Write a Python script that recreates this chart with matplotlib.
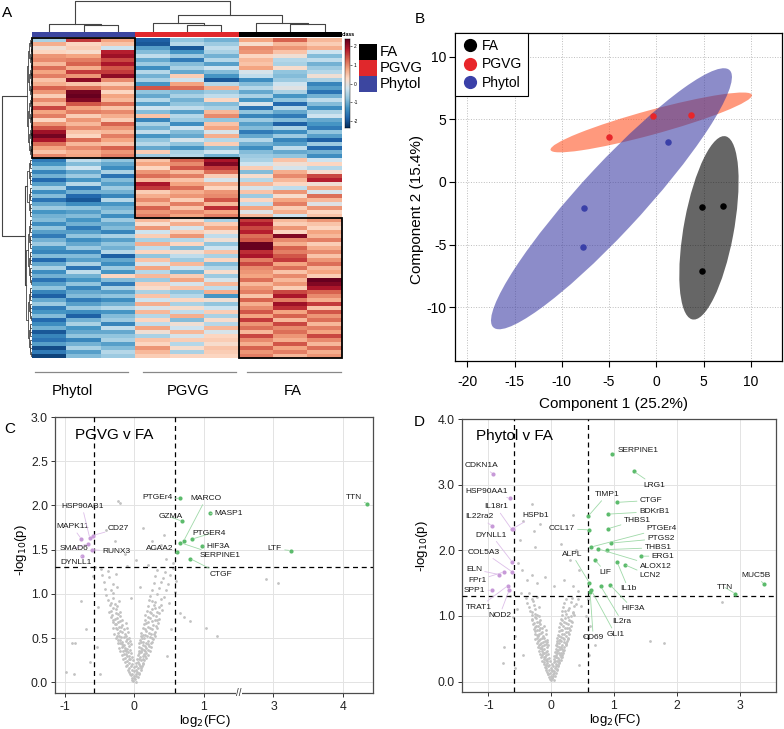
import numpy as np
import matplotlib
matplotlib.use("Agg")
import matplotlib.pyplot as plt
from matplotlib.patches import Rectangle, Ellipse
from matplotlib.colors import LinearSegmentedColormap, ListedColormap
from matplotlib.lines import Line2D

plt.rcParams['font.family'] = ['Liberation Sans', 'DejaVu Sans']
plt.rcParams['axes.unicode_minus'] = False

# ---------------- DATA ----------------
groups = ["Phytol", "PGVG", "FA"]
legend_classes = ["FA", "PGVG", "Phytol"]

# heatmap rows (z-scores), columns: Phytol x3, PGVG x3, FA x3
heat_top = [
    [-0.6, 1.6, 0.8, -1.9, -0.8, -1.0, 0.8, 1.3, 0.6],
    [0.7, 0.3, 0.5, -2.0, -0.5, -0.7, 0.2, 0.6, 0.4],
    [0.1, 0.4, -0.3, -1.2, -2.0, -0.4, 1.0, 0.9, 0.7],
    [0.3, 0.2, 1.8, -0.9, -1.3, -0.6, 0.9, 0.5, -0.3],
    [0.9, 0.8, 2.0, -0.4, -0.7, -1.0, 0.3, 0.1, -0.9],
    [1.0, 1.1, 1.5, -1.1, -1.6, -0.5, 0.6, -0.5, -0.4],
    [0.6, 1.3, 1.9, -0.7, -0.9, -1.2, 0.5, -0.6, -1.0],
    [1.2, 0.7, 1.4, -1.4, -0.6, -0.3, 0.8, 0.2, -0.7],
    [0.8, 1.6, 1.6, -0.5, -1.1, -0.9, -0.2, -0.8, -0.5],
    [1.1, 0.9, 2.1, -1.0, 0.4, -1.3, -0.4, -0.9, 0.1],
    [0.5, 2.1, 1.0, -0.6, -0.3, -2.0, -1.4, -0.7, -0.6],
    [0.7, 0.5, 0.4, -1.3, 0.8, -0.5, -0.9, -0.3, -1.5],
    [1.3, 1.2, 0.9, 1.4, 1.2, 0.7, -0.5, -0.1, -1.2],
    [0.9, 2.3, 0.3, -0.8, -0.9, -0.7, -1.1, -0.6, -1.7],
    [0.4, 2.4, 0.8, -1.1, -0.6, -0.4, -0.6, -1.3, -1.0],
    [1.0, 2.2, 0.6, -0.5, -1.0, 0.3, -1.3, -0.8, -0.4],
    [0.6, 1.4, 1.2, -1.2, -0.8, -0.9, -0.2, -1.8, -0.9],
    [1.5, 0.8, 0.5, -0.3, -0.4, -0.6, -1.7, -0.5, -1.4],
    [0.8, 1.1, 1.0, -0.9, -1.2, 0.6, -0.8, -1.1, -0.6],
    [1.1, 0.4, 0.7, 0.5, -0.5, 1.0, -1.5, -1.6, -0.3],
    [0.3, 0.9, 0.4, -1.5, -0.7, -0.8, -0.7, -0.9, -1.1],
    [0.9, 0.6, 1.3, -0.6, -1.4, 0.5, -1.2, -1.9, -1.3],
    [1.4, 1.0, 0.9, -1.0, -0.3, 0.8, -0.9, -0.6, -1.6],
    [2.0, 0.5, 0.6, -0.4, -0.9, -0.2, -1.6, -1.4, -0.8],
    [2.3, 0.3, 1.1, -1.3, -1.1, 0.7, -1.1, -0.7, -1.2],
    [1.9, 1.2, 0.8, -0.8, -0.2, -0.5, -0.5, -1.5, -1.9],
    [1.2, 0.6, 0.5, -0.5, -0.8, 0.4, -1.0, -1.2, -0.7],
    [0.8, 1.0, 1.3, -1.1, -1.3, -0.9, -1.4, -0.4, -1.8],
    [0.5, 0.7, 0.9, 0.4, -0.6, -0.3, -0.9, -1.1, -1.0],
    [1.0, 0.8, 1.1, -0.7, -0.5, -1.0, -0.7, -0.8, -1.4],
]
heat_mid = [
    [-1.6, -0.4, -0.8, 0.5, 1.3, 1.9, -0.6, 0.5, -0.3],
    [-1.3, -0.9, -1.1, 0.8, 1.0, 2.2, -0.3, 0.1, 0.3],
    [-0.8, -0.3, -1.4, 0.3, 1.4, 1.6, 0.4, -0.2, -0.5],
    [-1.5, -1.1, -0.6, 0.9, 0.6, 1.2, -0.9, 0.7, 0.2],
    [-1.0, -0.7, -1.7, 1.2, 1.1, 0.4, 0.2, 1.0, 1.5],
    [-1.8, -1.3, -0.9, 0.6, 0.5, -0.2, -0.5, 0.6, 1.8],
    [-1.2, -0.5, -1.2, 1.9, 0.8, 0.7, 0.6, 0.3, 0.1],
    [-0.6, -1.6, -0.7, 1.6, 1.2, 0.3, -0.2, -0.4, 0.8],
    [-1.4, -1.0, -1.0, 0.4, 0.7, 0.9, 0.5, 0.9, -0.2],
    [-0.9, -1.8, -1.5, 0.7, 0.9, 1.0, -0.7, 0.2, 1.2],
    [-1.7, -2.0, -0.5, 1.0, 0.4, 1.4, 0.3, 0.8, 0.6],
    [-1.1, -1.4, -1.3, 0.6, 1.1, 0.6, -0.4, 1.1, -0.1],
    [-0.7, -0.8, -1.0, 1.3, 0.5, 1.7, 0.8, 0.4, 0.9],
    [-1.3, -1.2, -0.8, 0.9, 1.0, 0.8, -0.1, 0.7, 0.3],
    [-1.0, -0.9, -1.4, 1.1, 0.8, 1.1, 0.6, -0.3, 0.5],
]
heat_bot = [
    [-0.9, -1.3, -0.7, 0.6, 0.2, -0.6, 1.6, 0.6, 0.9],
    [-1.4, -1.0, -1.1, 0.2, 0.7, 0.4, 1.9, 0.4, 0.5],
    [-0.8, -1.6, -0.9, 0.9, -0.2, 0.8, 1.5, 0.9, 0.3],
    [-1.2, -1.2, -1.5, -0.3, 0.4, 0.2, 1.8, 0.3, 0.8],
    [-1.6, -0.8, -0.6, 0.4, 0.9, -0.4, 1.2, 2.2, 0.6],
    [-1.0, -1.4, -1.2, -0.6, -0.5, 0.1, 1.4, 1.0, 1.1],
    [-0.7, -1.1, -0.8, 0.7, 0.3, -0.8, 2.5, 0.7, 0.4],
    [-1.3, -0.7, -1.0, -0.4, -0.9, -0.3, 2.4, 1.3, 0.7],
    [-1.5, -1.5, -0.5, 0.3, 0.1, 0.5, 1.7, 1.1, 1.0],
    [-0.9, -0.9, -1.9, -0.8, -0.4, -0.6, 1.9, 1.4, 0.5],
    [-1.8, -1.2, -1.1, 0.5, -0.7, 0.3, 1.1, 1.6, 0.9],
    [-1.1, -0.6, -1.4, -0.2, 0.6, -0.9, 1.5, 0.8, 1.2],
    [-0.6, -1.7, -0.7, 0.8, -0.3, -0.5, 1.0, 1.2, 0.6],
    [-1.4, -0.4, -1.3, -0.5, -1.0, 0.2, 0.9, 0.5, 0.8],
    [-1.0, -1.0, 0.3, 0.6, 0.4, -0.7, 0.8, 1.0, 0.4],
    [-1.7, -1.3, -0.9, -0.7, 0.8, -0.2, 1.2, 0.6, 2.4],
    [-1.2, -0.8, -1.6, 0.4, -0.2, 0.6, 0.6, 0.9, 2.2],
    [-0.8, -1.5, -0.6, 0.2, 0.5, -0.4, 0.9, 0.4, 1.9],
    [-1.5, -1.1, -1.2, -0.6, -0.8, 0.7, 1.1, 1.5, 1.3],
    [-1.9, -0.9, -0.8, 0.5, -0.5, -1.3, 0.5, 1.9, 1.0],
    [-1.1, -1.6, -1.4, -0.3, 0.3, 0.1, 1.3, 1.1, 0.7],
    [-0.7, -1.2, -1.0, 0.7, -0.6, -0.8, 0.7, 2.0, 1.6],
    [-1.6, -0.7, -0.5, -0.2, 0.2, -0.3, 1.0, 1.7, 0.5],
    [-1.3, -1.4, -1.3, 0.6, -0.4, 0.4, 1.4, 0.8, 1.4],
    [-0.9, -1.9, -0.9, -0.5, 0.7, -0.6, 0.8, 1.3, 0.9],
    [-1.8, -1.0, -0.7, 0.3, -0.9, 0.2, 1.6, 0.6, 1.2],
    [-1.4, -0.6, -1.5, -0.4, 0.1, -0.5, 0.9, 1.5, 0.6],
    [-1.0, -1.3, -0.4, 0.8, -0.3, 0.6, 1.2, 1.0, 1.1],
    [-2.0, -1.1, -1.1, 0.1, 0.6, -0.2, 0.6, 1.2, 0.8],
    [-1.5, -0.8, -0.8, -0.6, -0.2, 0.3, 1.5, 0.9, 1.5],
    [-1.7, -1.5, -0.6, 0.5, 0.4, 0.4, 1.0, 0.7, 1.0],
    [-1.2, -1.0, -1.2, 0.3, -0.5, 0.2, 0.7, 1.4, 0.6],
    [-2.1, -0.6, -0.9, 0.9, 0.2, 0.5, 1.3, 0.8, 1.2],
    [-1.6, -1.2, -0.5, 0.6, -0.6, 0.4, 0.9, 1.1, 0.7],
    [-2.2, -0.9, -0.7, 0.4, 0.3, 0.3, 1.1, 0.6, 0.9],
]
# column dendrogram merges (left node, right node, height); leaves 0..8
col_merges = [(1, 2, 0.23), (0, 9, 0.25), (4, 5, 0.22), (3, 11, 0.27),
              (7, 8, 0.25), (6, 13, 0.29), (12, 14, 0.53), (10, 15, 0.97)]

# PLS-DA scores
pca_fa_x = [4.83, 7.05, 4.83]
pca_fa_y = [-1.97, -1.90, -7.12]
pca_pgvg_x = [-5.0, -0.3, 3.7]
pca_pgvg_y = [3.63, 5.28, 5.36]
pca_phytol_x = [1.27, -7.7, -7.8]
pca_phytol_y = [3.23, -2.05, -5.2]

# Volcano C: PGVG v FA
c_up_genes = ["PTGEr4", "MARCO", "GZMA", "MASP1", "PTGER4", "HIF3A", "ACAA2",
              "SERPINE1", "CTGF", "LTF", "TTN"]
c_up_fc = [0.66, 0.71, 0.69, 1.18, 0.83, 0.97, 0.61, 0.66, 0.80, 3.25, 4.35]
c_up_p = [2.08, 1.60, 1.82, 1.91, 1.62, 1.54, 1.47, 1.58, 1.40, 1.49, 2.02]
c_dn_genes = ["MAPK11", "SMAD6", "HSP90AB1", "CD27", "RUNX3", "DYNLL1"]
c_dn_fc = [-0.76, -0.67, -0.64, -0.60, -0.61, -0.75]
c_dn_p = [1.62, 1.57, 1.63, 1.66, 1.50, 1.43]
c_ns = [(-0.02,0.02),(0.01,0.04),(0.03,0.01),(-0.04,0.05),(-0.05,0.08),(-0.01,0.07),(0.02,0.09),(0.05,0.06),
    (-0.07,0.12),(-0.03,0.10),(0.04,0.12),(0.07,0.10),(-0.08,0.16),(-0.04,0.14),(0.00,0.13),(0.05,0.16),(0.09,0.14),
    (-0.10,0.20),(-0.05,0.18),(0.03,0.19),(0.07,0.21),(0.11,0.18),(-0.11,0.24),(-0.07,0.22),(-0.02,0.25),(0.05,0.23),
    (0.09,0.25),(0.13,0.22),(-0.13,0.28),(-0.08,0.26),(-0.03,0.29),(0.04,0.27),(0.08,0.29),(0.12,0.26),(0.15,0.30),
    (-0.15,0.32),(-0.10,0.30),(-0.05,0.33),(0.05,0.31),(0.10,0.34),(0.14,0.32),(0.17,0.33),
    (-0.16,0.36),(-0.12,0.35),(-0.06,0.37),(0.06,0.36),(0.11,0.38),(0.16,0.35),(0.19,0.37),
    (-0.18,0.40),(-0.13,0.39),(-0.07,0.41),(0.07,0.40),(0.12,0.42),(0.17,0.39),(0.21,0.41),
    (-0.21,0.44),(-0.15,0.42),(-0.09,0.45),(-0.05,0.43),(0.07,0.44),(0.13,0.46),(0.19,0.43),(0.24,0.45),
    (-0.23,0.48),(-0.17,0.46),(-0.10,0.49),(-0.06,0.47),(0.08,0.48),(0.14,0.50),(0.20,0.47),(0.27,0.49),
    (-0.25,0.52),(-0.19,0.51),(-0.12,0.53),(-0.07,0.50),(0.09,0.52),(0.16,0.54),(0.22,0.51),(0.29,0.53),
    (-0.24,0.56),(-0.20,0.58),(-0.14,0.55),(-0.09,0.57),(0.10,0.56),(0.17,0.58),(0.24,0.55),(0.30,0.57),
    (-0.27,0.61),(-0.22,0.63),(-0.15,0.60),(-0.10,0.62),(0.12,0.61),(0.19,0.63),(0.26,0.60),(0.33,0.62),
    (-0.28,0.66),(-0.23,0.68),(-0.17,0.65),(-0.12,0.67),(0.14,0.66),(0.20,0.68),(0.27,0.65),(0.34,0.67),
    (-0.30,0.71),(-0.25,0.73),(-0.18,0.70),(0.15,0.71),(0.22,0.73),(0.29,0.70),(0.36,0.72),
    (-0.32,0.76),(-0.26,0.78),(-0.20,0.75),(0.16,0.76),(0.24,0.78),(0.31,0.75),
    (-0.33,0.81),(-0.27,0.83),(-0.21,0.80),(0.18,0.81),(0.25,0.83),(0.33,0.80),(0.40,0.82),
    (-0.35,0.87),(-0.28,0.89),(0.20,0.86),(0.28,0.88),(0.36,0.85),
    (-0.38,0.93),(-0.30,0.95),(-0.22,0.92),(0.21,0.93),(0.30,0.91),(0.39,0.94),
    (-0.40,0.99),(-0.31,1.01),(0.23,0.98),(0.33,1.00),(0.42,0.97),
    (-0.42,1.06),(-0.33,1.04),(-0.25,1.08),(0.25,1.05),(0.35,1.07),(0.45,1.04),
    (-0.44,1.13),(-0.30,1.11),(0.28,1.12),(0.38,1.14),(0.48,1.11),
    (-0.46,1.21),(-0.36,1.19),(-0.27,1.22),(0.30,1.20),(0.41,1.18),(0.51,1.21),
    (-0.48,1.28),(-0.38,1.26),(0.33,1.27),(0.44,1.25),(0.55,1.29),
    (-0.20,2.03),(-0.23,2.05),(0.42,1.67),(0.38,1.55),(0.30,1.52),(-0.28,1.60),(-0.40,1.72),(0.46,1.40),
    (0.55,1.35),(-0.76,0.92),(-0.90,0.45),(-0.85,0.45),(-0.98,0.12),(-0.87,0.10),(-0.64,0.23),(-0.50,0.10),
    (0.66,0.79),(0.71,0.74),(0.80,0.69),(1.07,0.62),(1.38,0.52),(2.78,1.17),(3.07,1.12),(0.60,1.15),
    (0.58,1.02),(-0.56,1.30),(-0.60,1.20),(-0.70,0.60),(0.52,0.60),(-0.53,0.40),(0.47,0.30),(0.13,1.75),
    (0.02,1.38),(-0.10,1.32),(0.20,1.33),(0.08,1.08),(-0.05,0.95),(-0.14,1.45),(0.25,1.60),(0.50,0.90),
    (-0.52,0.85)]
c_ns_core = [(-0.03,0.03),(0.00,0.05),(0.02,0.07),(-0.06,0.10),(0.06,0.11),(-0.09,0.14),(0.03,0.14),
    (0.10,0.16),(-0.12,0.19),(-0.01,0.17),(0.08,0.19),(0.12,0.21),(-0.14,0.23),(-0.04,0.21),(0.02,0.22),
    (0.14,0.25),(-0.16,0.27),(-0.06,0.27),(0.06,0.26),(0.17,0.28),(-0.18,0.31),(-0.12,0.32),(-0.08,0.30),
    (0.07,0.33),(0.12,0.30),(0.19,0.31),(-0.20,0.35),(-0.14,0.37),(-0.09,0.34),(0.09,0.35),(0.14,0.37),
    (0.22,0.36),(-0.22,0.39),(-0.16,0.41),(-0.10,0.38),(0.10,0.39),(0.15,0.41),(0.24,0.40),(-0.24,0.45),
    (-0.18,0.43),(-0.12,0.47),(0.10,0.46),(0.17,0.44),(0.26,0.46),(-0.27,0.50),(-0.21,0.48),(-0.15,0.51),
    (0.11,0.50),(0.18,0.52),(0.25,0.50),(-0.29,0.55),(-0.22,0.53),(-0.17,0.57),(0.13,0.54),(0.21,0.56),
    (0.28,0.55),(-0.30,0.62),(-0.25,0.60),(-0.19,0.63),(0.15,0.60),(0.23,0.62),(0.31,0.64),(-0.31,0.68),
    (-0.26,0.66),(-0.20,0.69),(0.17,0.67),(0.25,0.69),(0.32,0.70),(-0.34,0.74),(-0.28,0.72),(-0.23,0.77),
    (0.19,0.74),(0.27,0.76),(0.35,0.78),(-0.36,0.80),(-0.30,0.84),(0.22,0.80),(0.30,0.84),(0.38,0.88),
    (-0.25,0.86),(-0.34,0.90),(0.26,0.92)]

# Volcano D: Phytol v FA
d_up_genes = ["SERPINE1", "LRG1", "CTGF", "BDKrB1", "THBS1", "TIMP1", "CCL17", "PTGEr4",
              "PTGS2", "THBS1 ", "ERG1", "ALOX12", "LCN2", "IL1b", "LIF", "ALPL", "HIF3A",
              "IL2ra", "GLI1", "CD69", "TTN", "MUC5B"]
d_up_fc = [0.97, 1.32, 1.05, 0.90, 0.91, 0.59, 0.61, 0.64, 0.96, 0.89, 1.43, 0.75, 1.17,
           1.05, 0.70, 0.61, 0.94, 0.79, 0.64, 0.62, 2.93, 3.39]
d_up_p = [3.47, 3.20, 2.73, 2.55, 2.33, 2.52, 2.31, 2.05, 2.11, 2.01, 1.91, 2.02, 1.78,
          1.82, 1.85, 1.50, 1.47, 1.45, 1.39, 1.36, 1.34, 1.48]
d_dn_genes = ["CDKN1A", "HSP90AA1", "IL18r1", "HSPb1", "IL22ra2", "DYNLL1", "COL5A3",
              "ELN", "FPr1", "SPP1", "TRAT1", "NOD2"]
d_dn_fc = [-0.92, -0.66, -0.63, -0.61, -0.94, -0.62, -0.62, -0.83, -0.75, -0.95, -0.69, -0.67]
d_dn_p = [3.16, 2.79, 2.32, 2.33, 2.37, 1.82, 1.67, 1.63, 1.67, 1.39, 1.46, 1.39]
d_ns = [(-0.01,0.03),(0.02,0.05),(0.04,0.02),(-0.03,0.07),(-0.05,0.11),(0.00,0.09),(0.03,0.12),(0.06,0.08),
    (-0.06,0.15),(-0.02,0.13),(0.05,0.16),(0.08,0.13),(-0.08,0.20),(-0.04,0.18),(0.01,0.17),(0.06,0.21),(0.09,0.18),
    (-0.09,0.25),(-0.05,0.23),(0.03,0.24),(0.07,0.27),(0.11,0.23),(-0.11,0.30),(-0.07,0.28),(-0.02,0.31),(0.05,0.29),
    (0.09,0.32),(0.13,0.28),(-0.12,0.35),(-0.08,0.33),(-0.04,0.36),(0.04,0.34),(0.08,0.37),(0.12,0.33),(0.15,0.38),
    (-0.14,0.40),(-0.10,0.38),(-0.05,0.42),(0.05,0.39),(0.10,0.43),(0.14,0.40),(0.17,0.41),
    (-0.15,0.46),(-0.11,0.44),(-0.06,0.47),(0.06,0.45),(0.11,0.48),(0.15,0.44),(0.19,0.47),
    (-0.17,0.51),(-0.12,0.49),(-0.07,0.52),(0.07,0.50),(0.12,0.53),(0.17,0.49),(0.21,0.52),
    (-0.19,0.56),(-0.14,0.54),(-0.09,0.57),(-0.05,0.55),(0.08,0.56),(0.13,0.58),(0.18,0.55),(0.23,0.57),
    (-0.21,0.61),(-0.16,0.59),(-0.10,0.62),(-0.06,0.60),(0.09,0.61),(0.14,0.63),(0.20,0.60),(0.25,0.62),
    (-0.23,0.66),(-0.18,0.65),(-0.11,0.67),(-0.07,0.64),(0.10,0.66),(0.16,0.68),(0.21,0.65),(0.27,0.67),
    (-0.22,0.71),(-0.19,0.73),(-0.13,0.70),(-0.08,0.72),(0.11,0.71),(0.17,0.73),(0.23,0.70),(0.28,0.72),
    (-0.25,0.77),(-0.20,0.79),(-0.14,0.76),(-0.09,0.78),(0.12,0.77),(0.18,0.79),(0.24,0.76),(0.30,0.78),
    (-0.26,0.83),(-0.21,0.85),(-0.15,0.82),(-0.11,0.84),(0.13,0.83),(0.19,0.85),(0.25,0.82),(0.31,0.84),
    (-0.28,0.89),(-0.23,0.91),(-0.17,0.88),(0.14,0.89),(0.21,0.91),(0.27,0.88),(0.33,0.90),
    (-0.30,0.95),(-0.24,0.97),(-0.18,0.94),(0.15,0.95),(0.22,0.97),(0.29,0.94),
    (-0.31,1.01),(-0.25,1.03),(-0.19,1.00),(0.17,1.01),(0.23,1.03),(0.31,1.00),(0.37,1.02),
    (-0.33,1.08),(-0.26,1.10),(0.18,1.07),(0.26,1.09),(0.34,1.06),
    (-0.36,1.14),(-0.28,1.16),(-0.20,1.13),(0.19,1.14),(0.28,1.12),(0.36,1.15),
    (-0.38,1.20),(-0.29,1.22),(0.21,1.19),(0.31,1.21),(0.40,1.18),
    (-0.40,1.27),(-0.31,1.25),(-0.23,1.29),(0.23,1.26),(0.33,1.28),(0.43,1.25),
    (-0.31,2.70),(0.34,2.53),(-0.53,1.81),(-0.46,1.70),(-0.39,1.55),(-0.30,1.62),(-0.22,1.50),(-0.60,0.99),
    (-0.55,1.10),(-0.48,1.35),(0.35,1.45),(0.42,1.38),(0.48,1.15),(0.55,1.00),(0.62,0.84),(0.45,1.70),
    (0.30,1.85),(-0.25,2.05),(-0.18,2.40),(0.15,2.10),(-0.50,2.15),(-0.45,2.45),(0.40,2.00),(-0.10,1.60),
    (0.05,1.45),(0.20,1.55),(-0.35,1.35),(2.72,1.21),(1.57,0.61),(1.80,0.59),(-0.77,0.28),(-0.75,0.52),
    (-0.58,0.70),(0.60,0.40),(0.52,0.70),(-0.45,0.40),(0.45,0.25),(-0.58,0.20),(0.70,0.55),(-0.65,1.30),
    (0.58,1.25),(-0.28,2.29)]
d_ns_core = [(-0.02,0.04),(0.01,0.06),(0.03,0.09),(-0.05,0.12),(0.05,0.13),(-0.08,0.17),(0.02,0.16),
    (0.09,0.19),(-0.10,0.22),(-0.01,0.20),(0.07,0.23),(0.11,0.25),(-0.12,0.27),(-0.04,0.25),(0.02,0.26),
    (0.12,0.30),(-0.14,0.32),(-0.06,0.31),(0.06,0.31),(0.15,0.33),(-0.16,0.37),(-0.11,0.38),(-0.07,0.35),
    (0.07,0.38),(0.11,0.36),(0.17,0.37),(-0.18,0.42),(-0.13,0.44),(-0.08,0.40),(0.08,0.41),(0.13,0.44),
    (0.19,0.43),(-0.20,0.47),(-0.15,0.49),(-0.09,0.45),(0.09,0.46),(0.14,0.49),(0.21,0.48),(-0.21,0.53),
    (-0.16,0.51),(-0.11,0.55),(0.10,0.54),(0.15,0.52),(0.23,0.55),(-0.23,0.59),(-0.18,0.57),(-0.13,0.60),
    (0.10,0.59),(0.16,0.61),(0.24,0.59),(-0.25,0.65),(-0.19,0.63),(-0.15,0.67),(0.12,0.64),(0.19,0.66),
    (0.26,0.65),(-0.26,0.72),(-0.21,0.70),(-0.16,0.74),(0.13,0.70),(0.20,0.73),(0.27,0.75),(-0.27,0.80),
    (-0.22,0.78),(-0.17,0.81),(0.15,0.79),(0.22,0.81),(0.29,0.82),(-0.29,0.87),(-0.24,0.85),(-0.20,0.90),
    (0.16,0.87),(0.24,0.89),(0.32,0.92),(-0.31,0.94),(-0.26,0.98),(0.18,0.94),(0.26,0.99),(0.34,1.04),
    (-0.22,1.02),(-0.30,1.06),(0.22,1.08)]

fc_cut = np.log2(1.5)
p_cut = -np.log10(0.05)

# ---------------- LAYOUT / STYLE ----------------
W, H = 784, 729
fig = plt.figure(figsize=(W / 100, H / 100), dpi=100)

def ax_px(l, t, r, b):
    return fig.add_axes([l / W, 1 - b / H, (r - l) / W, (b - t) / H])

C_BLUE, C_RED, C_BLACK = "#3C46A0", "#E0282C", "#000000"
DEND = "#444444"
rdbu = ["#67001F", "#B2182B", "#D6604D", "#F4A582", "#FDDBC7",
        "#D1E5F0", "#92C5DE", "#4393C3", "#2166AC", "#053061"][::-1]
cmap = LinearSegmentedColormap.from_list("rdbu10", rdbu, N=256)

# ---------------- PANEL A: heatmap ----------------
heat = np.array(heat_top + heat_mid + heat_bot)
nr, nc = heat.shape
n_top, n_mid, n_bot = len(heat_top), len(heat_mid), len(heat_bot)

axh = ax_px(32, 38, 342, 358)
axh.imshow(heat, cmap=cmap, vmin=-2.4, vmax=2.4, aspect="auto", interpolation="nearest")
axh.set_axis_off()
for c0, r0, nrow in [(0, 0, n_top), (3, n_top, n_mid), (6, n_top + n_mid, n_bot)]:
    axh.add_patch(Rectangle((c0 - 0.5, r0 - 0.5), 3, nrow, fill=False, ec="black",
                            lw=1.3, clip_on=False, zorder=5))

# class bar
axc = ax_px(32, 32, 342, 37)
axc.imshow([[0, 0, 0, 1, 1, 1, 2, 2, 2]], cmap=ListedColormap([C_BLUE, C_RED, C_BLACK]),
           aspect="auto", vmin=0, vmax=2)
axc.set_axis_off()

# column dendrogram
axd = ax_px(32, 0, 342, 32)
nodes = {i: (i + 0.5, 0.0) for i in range(nc)}
nid = nc
for a, b, h in col_merges:
    (xa, ha), (xb, hb) = nodes[a], nodes[b]
    axd.plot([xa, xa, xb, xb], [ha, h, h, hb], color=DEND, lw=0.8)
    nodes[nid] = ((xa + xb) / 2, h)
    nid += 1
axd.set_xlim(0, nc)
axd.set_ylim(0, 1)
axd.set_axis_off()

# row dendrogram
axr = ax_px(0, 38, 32, 358)
def build(lo, hi, h):
    if hi - lo == 1:
        return lo + 0.5, 0.0
    mid = (lo + hi) // 2
    a = build(lo, mid, h * 0.72)
    b = build(mid, hi, h * 0.72)
    axr.plot([a[1], h, h, b[1]], [a[0], a[0], b[0], b[0]], color=DEND, lw=0.6)
    return (a[0] + b[0]) / 2, h
def join(a, b, h):
    axr.plot([a[1], h, h, b[1]], [a[0], a[0], b[0], b[0]], color=DEND, lw=0.8)
    return (a[0] + b[0]) / 2, h
t = build(0, n_top, 0.17)
m = build(n_top, n_top + n_mid, 0.15)
bt = build(n_top + n_mid, nr, 0.18)
mb = join(m, bt, 0.23)
join(t, mb, 0.94)
axr.set_ylim(nr, 0)
axr.set_xlim(1.0, 0)
axr.set_axis_off()

# colour key
axk = ax_px(345, 39, 350, 128)
axk.imshow(np.linspace(2.4, -2.4, 100)[:, None], cmap=cmap, vmin=-2.4, vmax=2.4,
           aspect="auto", extent=[0, 1, -2.4, 2.4])
axk.set_xticks([])
axk.yaxis.tick_right()
axk.set_yticks([-2, -1, 0, 1, 2])
axk.tick_params(axis="y", labelsize=3.5, length=1.5, width=0.4, pad=1)
for s in axk.spines.values():
    s.set_linewidth(0.3)

# ---------------- PANEL B: PLS-DA ----------------
axb = ax_px(455, 33, 782, 361)
def conf_ellipse(ax, xs, ys, color, alpha, z):
    xs, ys = np.asarray(xs), np.asarray(ys)
    cov = np.cov(xs, ys)
    vals, vecs = np.linalg.eigh(cov)
    order = vals.argsort()[::-1]
    vals, vecs = vals[order], vecs[:, order]
    ang = np.degrees(np.arctan2(vecs[1, 0], vecs[0, 0]))
    k = np.sqrt(5.991)
    ax.add_patch(Ellipse((xs.mean(), ys.mean()), 2 * k * np.sqrt(vals[0]),
                         2 * k * np.sqrt(vals[1]), angle=ang, fc=color, ec="none",
                         alpha=alpha, zorder=z))
conf_ellipse(axb, pca_pgvg_x, pca_pgvg_y, "#FF5020", 0.58, 2)
conf_ellipse(axb, pca_phytol_x, pca_phytol_y, "#3A3AA2", 0.58, 3)
conf_ellipse(axb, pca_fa_x, pca_fa_y, "#000000", 0.6, 4)
axb.scatter(pca_fa_x, pca_fa_y, s=22, color="black", zorder=6, lw=0)
axb.scatter(pca_pgvg_x, pca_pgvg_y, s=22, color="#E8262A", zorder=6, lw=0)
axb.scatter(pca_phytol_x, pca_phytol_y, s=22, color="#3A40A8", zorder=6, lw=0)
axb.set_xlim(-21.3, 13.3)
axb.set_ylim(-14.3, 11.9)
axb.set_xticks([-20, -15, -10, -5, 0, 5, 10])
axb.set_yticks([-10, -5, 0, 5, 10])
axb.grid(True, ls=":", color="#BDBDBD", lw=0.7)
axb.set_axisbelow(True)
axb.tick_params(labelsize=10, length=4, width=0.8, direction="out")
axb.tick_params(axis="x", pad=6)
axb.tick_params(axis="y", pad=2)
for s in axb.spines.values():
    s.set_linewidth(0.9)
handles = [Line2D([], [], marker="o", ls="", color=c, markersize=8.5)
           for c in ["black", "#E8262A", "#3A40A8"]]
leg = axb.legend(handles, legend_classes, loc="upper left", fontsize=10, frameon=True,
                 fancybox=False, edgecolor="black", borderaxespad=0, handletextpad=0.25,
                 borderpad=0.45, labelspacing=0.3, handlelength=1.2, framealpha=1)
leg.get_frame().set_linewidth(0.8)

# ---------------- volcano helper ----------------
GREEN, GREEN_L = "#5CBB6C", "#9FD9A8"
PURP, PURP_L = "#C79AD8", "#DDBFE9"

def volcano(ax, ns_sets, up, dn, labpos_up, labpos_dn):
    for ns in ns_sets:
        ns = np.array(ns)
        ax.scatter(ns[:, 0], ns[:, 1], s=4, color="#C2C2C2", lw=0, zorder=2)
    for (genes, fc, p), col, lcol, lp in [(up, GREEN, GREEN_L, labpos_up),
                                          (dn, PURP, PURP_L, labpos_dn)]:
        ax.scatter(fc, p, s=9, color=col, lw=0, zorder=4)
        for g, x, y in zip(genes, fc, p):
            lx, ly = lp[g]
            ax.annotate(g.strip(), xy=(x, y), xytext=(lx, ly), ha="center", va="center",
                        fontsize=6, color="#1A1A1A", zorder=5, annotation_clip=False,
                        arrowprops=dict(arrowstyle="-", color=lcol, lw=0.6,
                                        shrinkA=0, shrinkB=1.5))
    ax.axvline(-fc_cut, color="black", ls=(0, (4, 3)), lw=0.9, zorder=3)
    ax.axvline(fc_cut, color="black", ls=(0, (4, 3)), lw=0.9, zorder=3)
    ax.axhline(p_cut, color="black", ls=(0, (4, 3)), lw=0.9, zorder=3)
    ax.grid(True, color="#E3E3E3", lw=0.7)
    ax.set_axisbelow(True)
    ax.tick_params(labelsize=8.8, length=3, width=0.7, color="#333333", labelcolor="#222222")
    ax.tick_params(axis="x", pad=3)
    ax.tick_params(axis="y", pad=2)
    for s in ax.spines.values():
        s.set_color("#4D4D4D")
        s.set_linewidth(0.9)

# ---------------- PANEL C ----------------
axC = ax_px(55, 417, 373, 693)
def fwd(x):
    x = np.asarray(x, dtype=float)
    return np.where(x <= 1, x, np.where(x <= 3, 1 + (x - 1) / 2, x - 1))
def inv(x):
    x = np.asarray(x, dtype=float)
    return np.where(x <= 1, x, np.where(x <= 2, 1 + 2 * (x - 1), x + 1))
axC.set_xscale("function", functions=(fwd, inv))
axC.set_xlim(-1.14, 4.43)
axC.set_ylim(-0.12, 3.0)
c_lab_up = {"PTGEr4": (0.33, 2.09), "MARCO": (1.06, 2.08), "GZMA": (0.52, 1.87),
            "MASP1": (1.72, 1.91), "PTGER4": (1.16, 1.68), "HIF3A": (1.42, 1.54),
            "ACAA2": (0.37, 1.51), "SERPINE1": (1.46, 1.43), "CTGF": (1.50, 1.22),
            "LTF": (3.02, 1.51), "TTN": (4.15, 2.09)}
c_lab_dn = {"HSP90AB1": (-0.75, 1.99), "MAPK11": (-0.89, 1.76), "CD27": (-0.23, 1.74),
            "SMAD6": (-0.87, 1.51), "RUNX3": (-0.26, 1.48), "DYNLL1": (-0.84, 1.35)}
volcano(axC, [c_ns, c_ns_core], (c_up_genes, c_up_fc, c_up_p), (c_dn_genes, c_dn_fc, c_dn_p),
        c_lab_up, c_lab_dn)
axC.set_xticks([-1, 0, 1, 3, 4])
axC.set_xticklabels(["-1", "0", "1", "3", "4"])
axC.minorticks_off()
axC.set_yticks([0, 0.5, 1.0, 1.5, 2.0, 2.5, 3.0])
axC.set_yticklabels(["0.0", "0.5", "1.0", "1.5", "2.0", "2.5", "3.0"])
axC.text(2.0, 0.0, "//", transform=axC.get_xaxis_transform(), ha="center", va="center",
         fontsize=7, color="#333333", zorder=10, clip_on=False,
         bbox=dict(fc="white", ec="none", pad=0.2))
axC.text(0.063, 0.935, "PGVG v FA", transform=axC.transAxes, fontsize=11, ha="left", va="center")

# ---------------- PANEL D ----------------
axD = ax_px(462, 419, 776, 692)
axD.set_xlim(-1.42, 3.58)
axD.set_ylim(-0.16, 4.0)
d_lab_up = {"SERPINE1": (1.38, 3.52), "LRG1": (1.64, 2.99), "TIMP1": (0.89, 2.85),
            "CTGF": (1.59, 2.76), "BDKrB1": (1.64, 2.59), "THBS1": (1.37, 2.46),
            "CCL17": (0.17, 2.33), "PTGEr4": (1.76, 2.33), "PTGS2": (1.75, 2.18),
            "THBS1 ": (1.70, 2.04), "ERG1": (1.78, 1.91), "ALPL": (0.33, 1.94),
            "ALOX12": (1.66, 1.76), "LIF": (0.87, 1.66), "LCN2": (1.58, 1.61),
            "IL1b": (1.23, 1.41), "HIF3A": (1.30, 1.11), "IL2ra": (1.13, 0.91),
            "GLI1": (1.02, 0.72), "CD69": (0.67, 0.67), "TTN": (2.77, 1.43),
            "MUC5B": (3.26, 1.62)}
d_lab_dn = {"CDKN1A": (-1.11, 3.29), "HSP90AA1": (-1.02, 2.90), "IL18r1": (-0.88, 2.66),
            "IL22ra2": (-1.15, 2.51), "HSPb1": (-0.25, 2.53), "DYNLL1": (-0.95, 2.23),
            "COL5A3": (-1.07, 1.97), "ELN": (-1.23, 1.71), "FPr1": (-1.18, 1.54),
            "SPP1": (-1.22, 1.39), "TRAT1": (-1.15, 1.13), "NOD2": (-0.82, 1.01)}
volcano(axD, [d_ns, d_ns_core], (d_up_genes, d_up_fc, d_up_p), (d_dn_genes, d_dn_fc, d_dn_p),
        d_lab_up, d_lab_dn)
axD.set_xticks([-1, 0, 1, 2, 3])
axD.set_yticks([0, 1, 2, 3, 4])
axD.set_yticklabels(["0.0", "1.0", "2.0", "3.0", "4.0"])
axD.text(0.045, 0.938, "Phytol v FA", transform=axD.transAxes, fontsize=11, ha="left", va="center")

# ---------------- overlay (pixel coordinates) ----------------
ov = fig.add_axes([0, 0, 1, 1])
ov.set_xlim(0, W)
ov.set_ylim(H, 0)
ov.set_axis_off()
# heatmap legend
for i, (lab, col) in enumerate(zip(legend_classes, [C_BLACK, C_RED, C_BLUE])):
    ov.add_patch(Rectangle((359, 44 + 16 * i), 18, 16, fc=col, ec="none"))
    ov.text(380, 52 + 16 * i, lab, fontsize=10.7, va="center", ha="left")
ov.text(348, 34.5, "class", fontsize=3.8, ha="center", va="center", fontweight="bold")
# group labels under heatmap
for (x0, x1), g in zip([(35, 128), (143, 236), (247, 341)], groups):
    ov.plot([x0, x1], [372, 372], color="#888888", lw=0.9)
    ov.text((x0 + x1) / 2 - 9 if g == "Phytol" else (x0 + x1) / 2 - 1, 391, g,
            fontsize=10.6, ha="center", va="center")
# panel letters
for lab, x, y in [("A", 7, 13), ("B", 420, 19), ("C", 10, 429), ("D", 419, 422)]:
    ov.text(x, y, lab, fontsize=11, ha="center", va="center")
# axis labels
ov.text(417, 209, "Component 2 (15.4%)", fontsize=11, rotation=90, ha="center", va="center")
ov.text(614, 404, "Component 1 (25.2%)", fontsize=11, ha="center", va="center")
ov.text(21, 550, r"-log$_{10}$(p)", fontsize=9.5, rotation=90, ha="center", va="center")
ov.text(205, 721, r"log$_2$(FC)", fontsize=9.5, ha="center", va="center")
ov.text(422, 546, r"-log$_{10}$(p)", fontsize=9.5, rotation=90, ha="center", va="center")
ov.text(615, 720, r"log$_2$(FC)", fontsize=9.5, ha="center", va="center")

fig.savefig("out.png", dpi=100)
